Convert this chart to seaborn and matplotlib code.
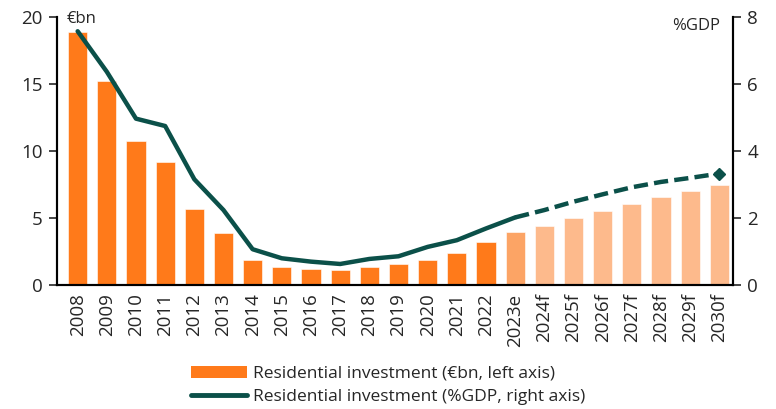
import numpy as np
import pandas as pd
import matplotlib
matplotlib.use("Agg")
import matplotlib.pyplot as plt
import seaborn as sns
from matplotlib.patches import Patch
from matplotlib.lines import Line2D

years = ["2008", "2009", "2010", "2011", "2012", "2013", "2014", "2015",
         "2016", "2017", "2018", "2019", "2020", "2021", "2022", "2023e",
         "2024f", "2025f", "2026f", "2027f", "2028f", "2029f", "2030f"]
invest_bn = [18.9, 15.2, 10.75, 9.2, 5.7, 3.9, 1.87, 1.34, 1.22, 1.12, 1.37,
             1.57, 1.84, 2.37, 3.19, 3.98, 4.4, 5.0, 5.52, 6.07, 6.57, 7.01, 7.46]
invest_gdp = [7.58, 6.37, 4.97, 4.75, 3.16, 2.24, 1.07, 0.80, 0.70, 0.63, 0.78,
              0.86, 1.14, 1.34, 1.69, 2.02, 2.24, 2.49, 2.71, 2.92, 3.08, 3.2, 3.33]
n_actual = 15      # 2008-2022 actual, 2023e estimate, rest forecasts

orange = "#ff7a1a"
orange_est = "#fca465"
orange_fc = "#fdba8c"
teal = "#0b5049"

sns.set_style("white")
plt.rcParams["font.family"] = ["Open Sans", "DejaVu Sans"]
plt.rcParams["font.size"] = 13

df = pd.DataFrame({"year": years, "bn": invest_bn, "gdp": invest_gdp})
df["pos"] = np.arange(len(df))
bar_colors = [orange] * n_actual + [orange_est] + [orange_fc] * (len(df) - n_actual - 1)

fig, ax = plt.subplots(figsize=(7.76, 4.09), dpi=100)
fig.subplots_adjust(left=0.073, right=0.945, top=0.958, bottom=0.303)

sns.barplot(data=df, x="year", y="bn", hue="year", palette=bar_colors,
            legend=False, width=0.66, ax=ax, saturation=1,
            edgecolor="white", linewidth=0.4)
ax.set_xlim(-0.72, len(df) - 1 + 0.48)
ax.set_ylim(0, 20)
ax.set_yticks([0, 5, 10, 15, 20])
ax.set_xlabel("")
ax.set_ylabel("")
ax.tick_params(axis="x", rotation=90, length=0, labelsize=13.5, pad=6)
ax.tick_params(axis="y", left=True, length=6, width=1.2, labelsize=13.5, pad=4)

ax2 = ax.twinx()
solid = df.iloc[:n_actual + 1]
dashed = df.iloc[n_actual:]
sns.lineplot(data=solid, x="pos", y="gdp", color=teal, lw=3.2, ax=ax2,
             solid_capstyle="round")
ax2.plot(dashed["pos"], dashed["gdp"], color=teal, lw=3.2,
         linestyle=(0, (3.2, 1.4)), dash_capstyle="butt")
ax2.plot(df["pos"].iloc[-1], df["gdp"].iloc[-1], marker="D", ms=6.5, color=teal)
ax2.set_ylim(0, 8)
ax2.set_yticks([0, 2, 4, 6, 8])
ax2.set_xlim(-0.72, len(df) - 1 + 0.48)
ax2.set_xlabel("")
ax2.set_ylabel("")
ax2.tick_params(axis="y", right=True, length=6, width=1.2, labelsize=13.5, pad=4)

for a in (ax, ax2):
    a.spines["top"].set_visible(False)
    for s in ("left", "right", "bottom"):
        a.spines[s].set_linewidth(1.5)
        a.spines[s].set_color("black")

ax.text(0.015, 0.995, "€bn", transform=ax.transAxes, va="center", ha="left", fontsize=12)
ax2.text(0.981, 0.968, "%GDP", transform=ax.transAxes, va="center", ha="right", fontsize=12)

handles = [Patch(facecolor=orange, edgecolor="none"),
           Line2D([0], [0], color=teal, lw=3.5, solid_capstyle="round")]
labels = ["Residential investment (€bn, left axis)",
          "Residential investment (%GDP, right axis)"]
fig.legend(handles, labels, loc="lower center", bbox_to_anchor=(0.5, -0.02),
           frameon=False, fontsize=12.5, handlelength=3.2, handletextpad=0.35,
           labelspacing=0.4, borderpad=0.2)

fig.savefig("out.png", dpi=100)
